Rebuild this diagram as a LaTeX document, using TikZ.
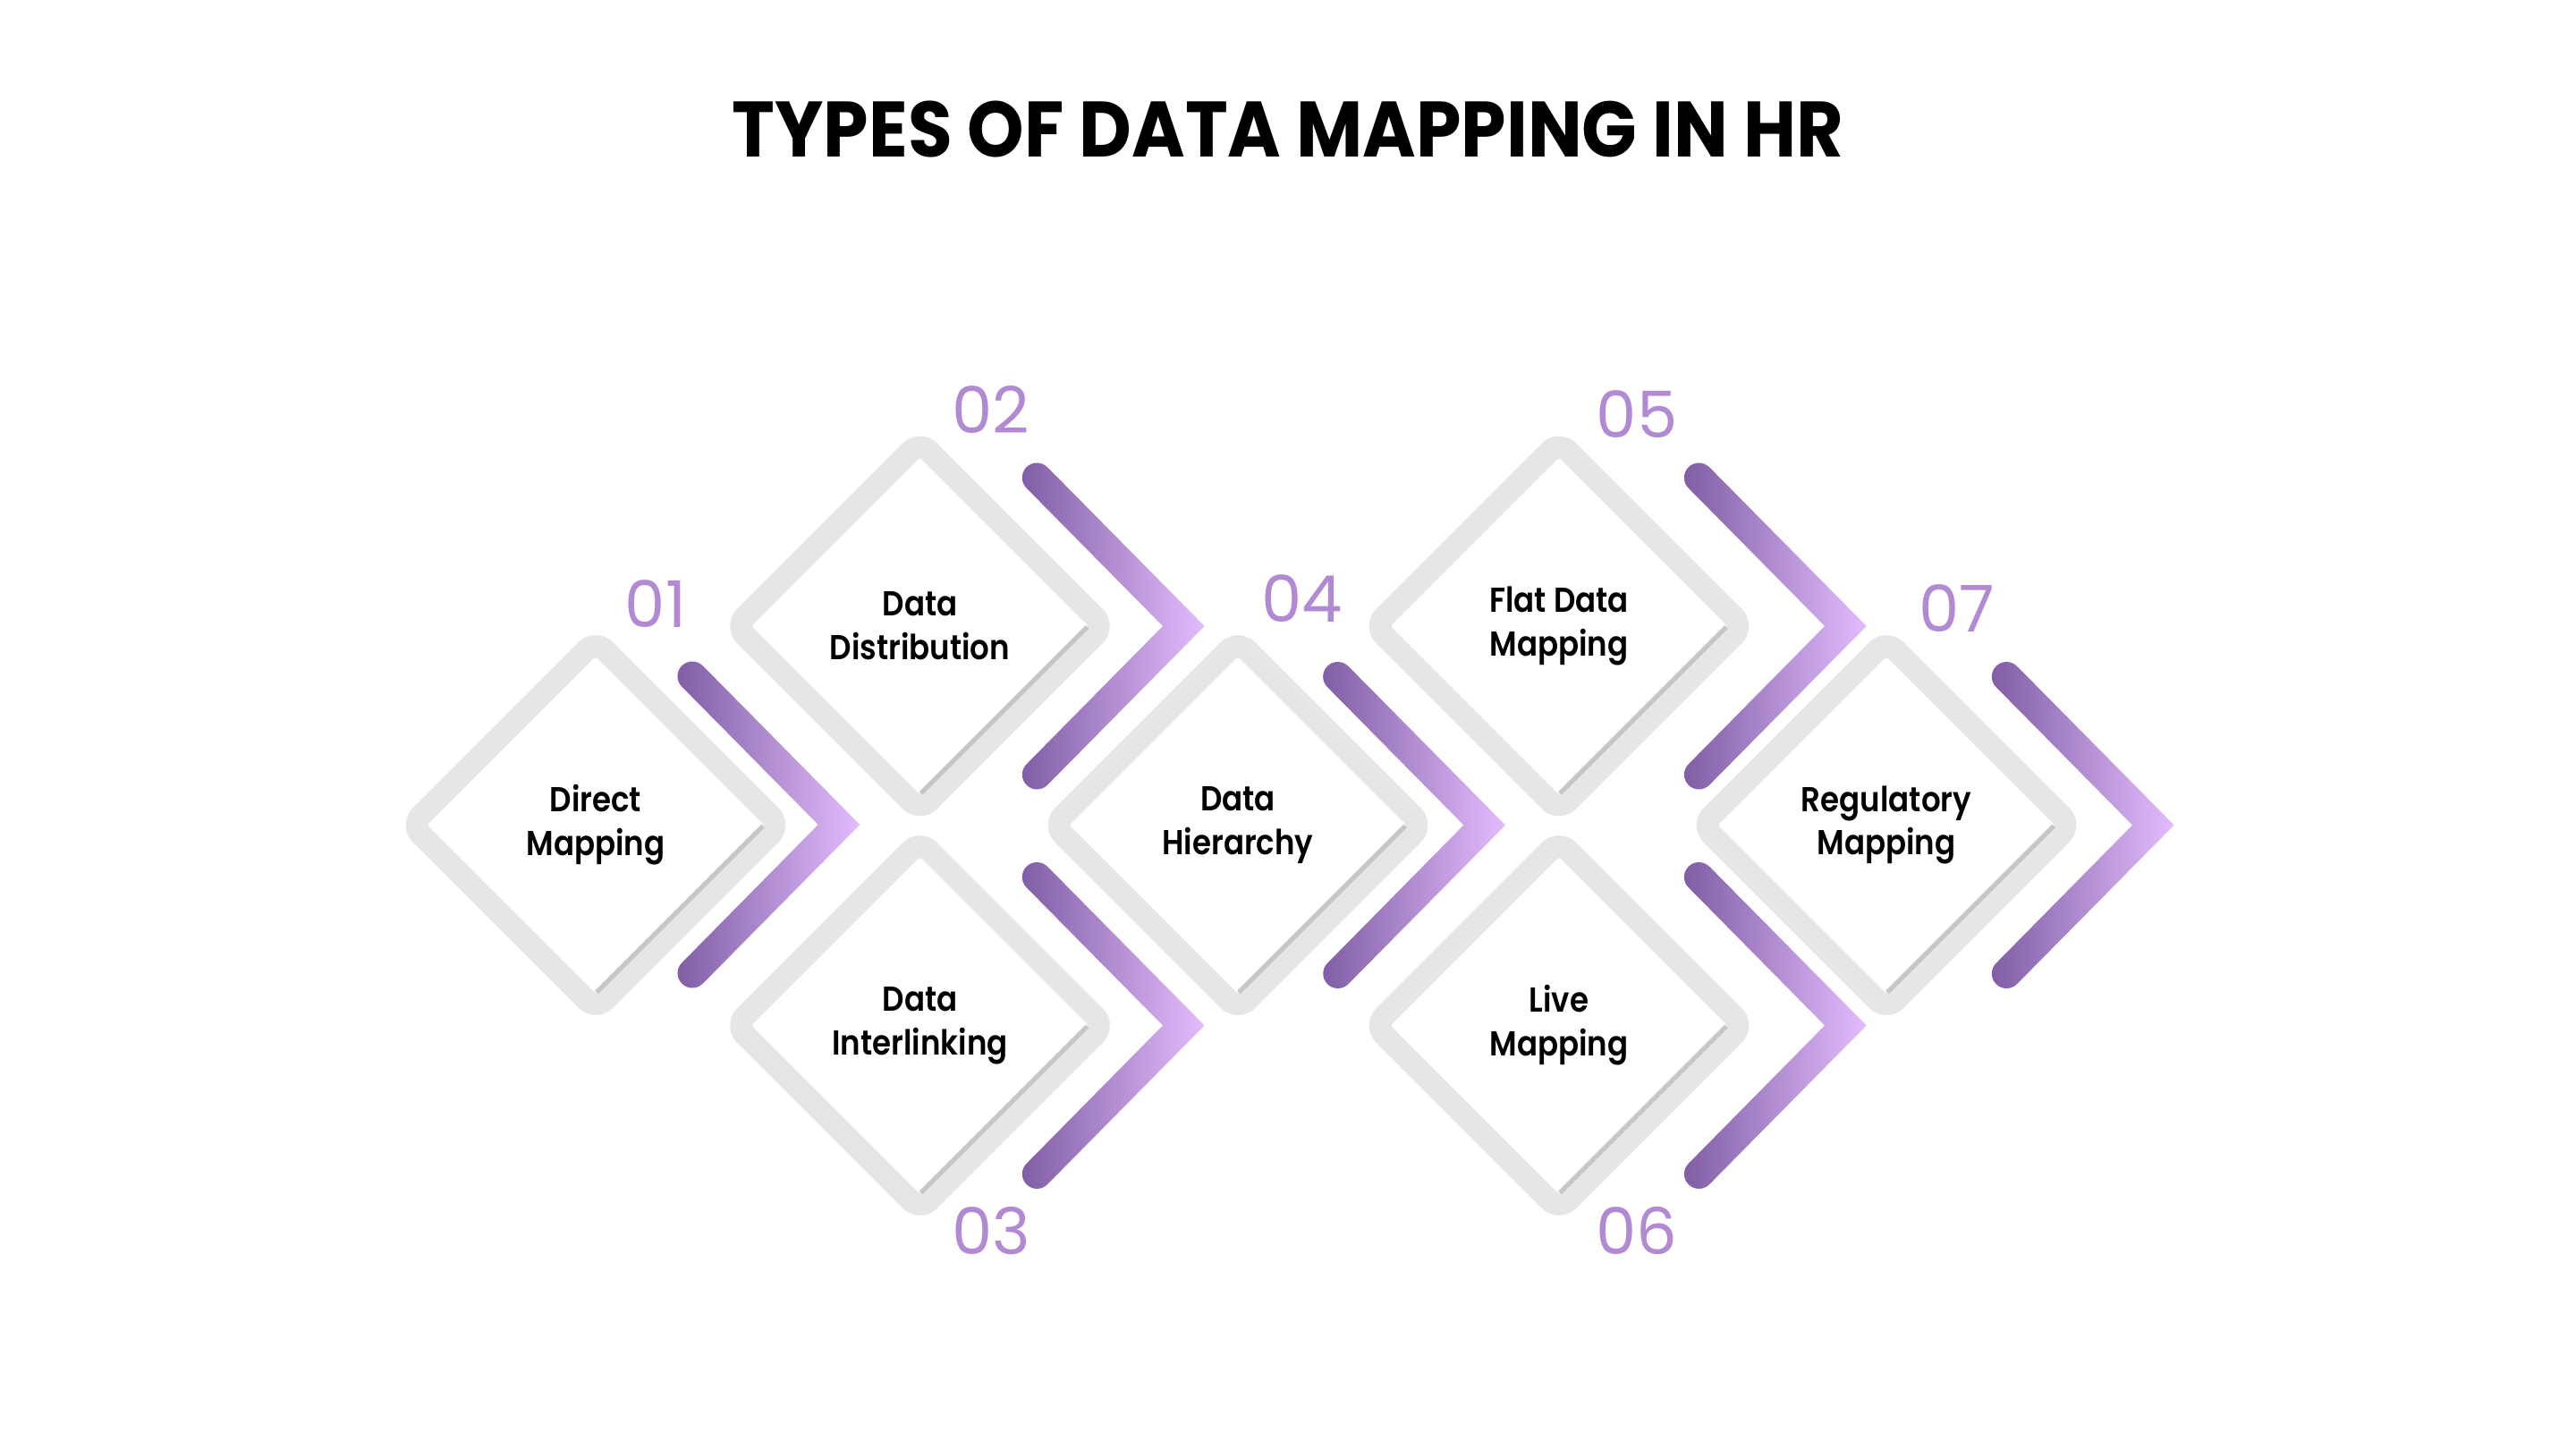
\documentclass[tikz,border=0pt]{standalone}
\usepackage{fontspec}
\setmainfont{Poppins}
\newfontfamily\lblfont{Poppins SemiBold}[FakeStretch=0.88]
\newfontfamily\ttlfont{Poppins Bold}[FakeStretch=0.92]

\definecolor{bandgrey}{RGB}{230,230,230}
\definecolor{edgegrey}{RGB}{198,198,198}
\definecolor{chevdark}{RGB}{128,93,165}
\definecolor{chevlight}{RGB}{226,188,253}
\definecolor{numpurple}{RGB}{178,138,212}

\tikzset{
  pics/diam/.style={code={
    \draw[line width=0.25cm, bandgrey, rounded corners=0.15cm]
      (1.03,1.03) -- (2.06,0) -- (0,-2.06) -- (-2.06,0) -- (0,2.06) -- cycle;
    \draw[line width=0.05cm, edgegrey] (1.87,-0.01) -- (0.01,-1.87);
  }},
  pics/chev/.style={code={
    \shade[left color=chevdark, right color=chevlight]
      (0.117,1.777) -- (1.873,0) -- (0.117,-1.777)
      arc[start angle=-45, end angle=-225, radius=0.165]
      -- (1.407,0) -- (-0.117,1.543)
      arc[start angle=225, end angle=45, radius=0.165] -- cycle;
  }},
  lbl/.style={font=\lblfont\fontsize{11}{13.9}\selectfont, align=center, text=black},
  num/.style={font=\fontsize{20.5}{24}\selectfont, text=numpurple},
}

\begin{document}
\begin{tikzpicture}
  \useasboundingbox (0,0) rectangle (28.8,16.2);
  \node[font=\ttlfont\fontsize{25}{30}\selectfont] (title) at (14.4,14.75) {TYPES OF DATA MAPPING IN HR};

  \foreach \n/\x/\y in {1/6.66/6.975, 2/10.285/9.2, 3/10.285/4.735, 4/13.84/6.975,
                        5/17.43/9.2, 6/17.43/4.735, 7/21.09/6.975}
  {
    \coordinate (d\n) at (\x,\y);
    \pic at (d\n) {diam};
  }

  \foreach \n/\x/\y in {1/7.74/6.98, 2/11.593/9.2, 3/11.593/4.735, 4/14.957/6.975,
                        5/18.994/9.2, 6/18.994/4.735, 7/22.433/6.975}
    \pic (c\n) at (\x,\y) {chev};

  \node[lbl] (t1) at (d1) {Direct\\Mapping};
  \node[lbl] (t2) at (d2) {Data\\Distribution};
  \node[lbl] (t3) at (d3) {Data\\Interlinking};
  \node[lbl] (t4) at (d4) {Data\\Hierarchy};
  \node[lbl] (t5) at (d5) {Flat Data\\Mapping};
  \node[lbl] (t6) at (d6) {Live\\Mapping};
  \node[lbl] (t7) at (d7) {Regulatory\\Mapping};

  \node[num] (n1) at (7.33,9.445) {01};
  \node[num] (n2) at (11.08,11.62) {02};
  \node[num] (n3) at (11.08,2.44) {03};
  \node[num] (n4) at (14.556,9.51) {04};
  \node[num] (n5) at (18.3,11.57) {05};
  \node[num] (n6) at (18.3,2.44) {06};
  \node[num] (n7) at (21.88,9.4) {07};
\end{tikzpicture}
\end{document}
